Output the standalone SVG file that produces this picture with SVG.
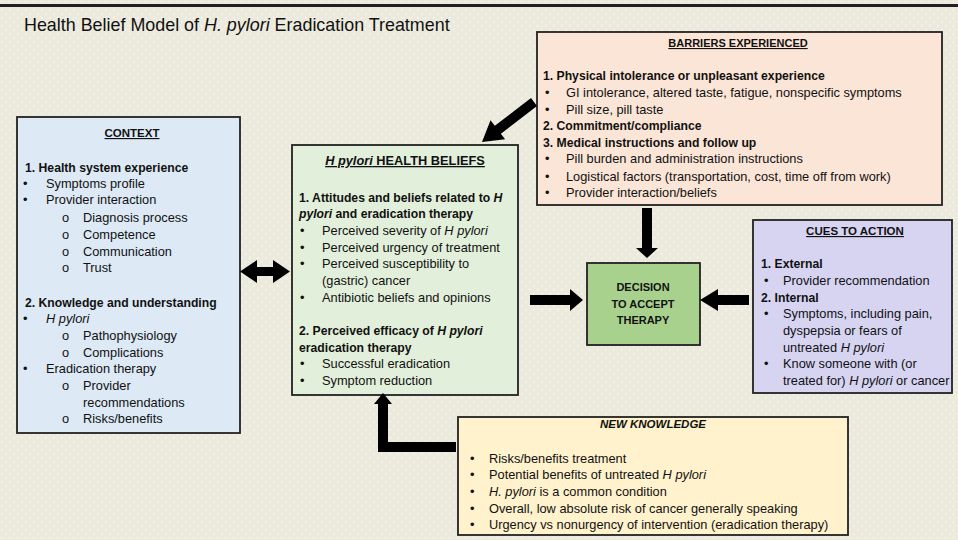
<svg xmlns="http://www.w3.org/2000/svg" width="958" height="540" viewBox="0 0 958 540">
<defs>
<pattern id="dots" width="8" height="8" patternUnits="userSpaceOnUse">
<rect width="8" height="8" fill="#EBEADD"/>
<rect x="1" y="1" width="1.5" height="1.5" fill="#F8F8F2"/>
<rect x="5" y="5" width="1.5" height="1.5" fill="#F8F8F2"/>
</pattern>
</defs>
<style>
text{font-family:"Liberation Sans",Arial,sans-serif;font-size:12.8px;fill:#111}
.b{font-weight:bold;font-size:12.2px}
.i{font-style:italic}
.h{font-weight:bold;text-decoration:underline;text-anchor:middle;font-size:11.5px}
.box{stroke:#222;stroke-width:1.8}
.arr{fill:#000}
</style>
<rect width="958" height="540" fill="url(#dots)"/>
<rect x="0" y="4" width="958" height="3" fill="#222"/>
<text x="24" y="31" style="font-size:17.9px">Health Belief Model of <tspan class="i">H. pylori</tspan> Eradication Treatment</text>

<g id="context">
<rect class="box" x="17" y="117" width="223" height="316" fill="#DDE9F5"/>
<text class="h" x="132" y="137">CONTEXT</text>
<text class="b" x="25" y="172">1. Health system experience</text>
<text x="23" y="188">•</text><text x="46" y="188">Symptoms profile</text>
<text x="23" y="204">•</text><text x="46" y="204">Provider interaction</text>
<text x="62" y="222">o</text><text x="83" y="222">Diagnosis process</text>
<text x="62" y="239">o</text><text x="83" y="239">Competence</text>
<text x="62" y="256">o</text><text x="83" y="256">Communication</text>
<text x="62" y="272">o</text><text x="83" y="272">Trust</text>
<text class="b" x="25" y="307">2. Knowledge and understanding</text>
<text x="23" y="323">•</text><text class="i" x="46" y="323">H pylori</text>
<text x="62" y="340">o</text><text x="83" y="340">Pathophysiology</text>
<text x="62" y="357">o</text><text x="83" y="357">Complications</text>
<text x="23" y="373">•</text><text x="46" y="373">Eradication therapy</text>
<text x="62" y="390">o</text><text x="83" y="390">Provider</text>
<text x="83" y="407">recommendations</text>
<text x="62" y="423">o</text><text x="83" y="423">Risks/benefits</text>
</g>

<g id="beliefs">
<rect class="box" x="292" y="145" width="226" height="250" fill="#E2EFDA"/>
<text class="h" x="405" y="165" style="font-size:12.8px"><tspan class="i">H pylori</tspan> HEALTH BELIEFS</text>
<text class="b" x="299" y="202">1. Attitudes and beliefs related to <tspan class="i">H</tspan></text>
<text class="b" x="299" y="218"><tspan class="i">pylori</tspan> and eradication therapy</text>
<text x="300" y="235">•</text><text x="322" y="235">Perceived severity of <tspan class="i">H pylori</tspan></text>
<text x="300" y="252">•</text><text x="322" y="252">Perceived urgency of treatment</text>
<text x="300" y="268">•</text><text x="322" y="268">Perceived susceptibility to</text>
<text x="322" y="285">(gastric) cancer</text>
<text x="300" y="302">•</text><text x="322" y="302">Antibiotic beliefs and opinions</text>
<text class="b" x="299" y="335">2. Perceived efficacy of <tspan class="i">H pylori</tspan></text>
<text class="b" x="299" y="352">eradication therapy</text>
<text x="300" y="368">•</text><text x="322" y="368">Successful eradication</text>
<text x="300" y="385">•</text><text x="322" y="385">Symptom reduction</text>
</g>

<g id="barriers">
<rect class="box" x="537" y="32" width="405" height="173" fill="#FBE5D6"/>
<text class="h" x="738" y="47" style="font-size:11px">BARRIERS EXPERIENCED</text>
<text class="b" x="543" y="80">1. Physical intolerance or unpleasant experience</text>
<text x="545" y="97">•</text><text x="566" y="97">GI intolerance, altered taste, fatigue, nonspecific symptoms</text>
<text x="545" y="114">•</text><text x="566" y="114">Pill size, pill taste</text>
<text class="b" x="543" y="130">2. Commitment/compliance</text>
<text class="b" x="543" y="147">3. Medical instructions and follow up</text>
<text x="545" y="163">•</text><text x="566" y="163">Pill burden and administration instructions</text>
<text x="545" y="181">•</text><text x="566" y="181">Logistical factors (transportation, cost, time off from work)</text>
<text x="545" y="197">•</text><text x="566" y="197">Provider interaction/beliefs</text>
</g>

<g id="cues">
<rect class="box" x="753" y="220" width="199" height="173" fill="#D6D4F1"/>
<text class="h" x="855" y="235">CUES TO ACTION</text>
<text class="b" x="761" y="268">1. External</text>
<text x="764" y="285">•</text><text x="783" y="285">Provider recommendation</text>
<text class="b" x="761" y="302">2. Internal</text>
<text x="764" y="318">•</text><text x="783" y="318">Symptoms, including pain,</text>
<text x="783" y="335">dyspepsia or fears of</text>
<text x="783" y="352">untreated <tspan class="i">H pylori</tspan></text>
<text x="764" y="368">•</text><text x="783" y="368">Know someone with (or</text>
<text x="783" y="385">treated for) <tspan class="i">H pylori</tspan> or cancer</text>
</g>

<g id="decision">
<rect class="box" x="587" y="263" width="113" height="82" fill="#A9D18E"/>
<text class="b" x="643" y="291" text-anchor="middle" style="font-size:11px">DECISION</text>
<text class="b" x="643" y="308" text-anchor="middle" style="font-size:11px">TO ACCEPT</text>
<text class="b" x="643" y="324" text-anchor="middle" style="font-size:11px">THERAPY</text>
</g>

<g id="newknowledge">
<rect class="box" x="458" y="417" width="390" height="118" fill="#FFF2CC"/>
<text class="b i" x="653" y="428" text-anchor="middle" style="font-size:11.5px">NEW KNOWLEDGE</text>
<text x="470" y="463">•</text><text x="489" y="463">Risks/benefits treatment</text>
<text x="470" y="479">•</text><text x="489" y="479">Potential benefits of untreated <tspan class="i">H pylori</tspan></text>
<text x="470" y="496">•</text><text x="489" y="496"><tspan class="i">H. pylori</tspan> is a common condition</text>
<text x="470" y="513">•</text><text x="489" y="513">Overall, low absolute risk of cancer generally speaking</text>
<text x="470" y="529">•</text><text x="489" y="529">Urgency vs nonurgency of intervention (eradication therapy)</text>
</g>

<g id="connectors">
<polygon class="arr" points="240,271.5 257,260 257,267 273,267 273,260 290,271.5 273,283 273,276 257,276 257,283"/>
<polygon class="arr" points="531,98 494.8,125.8 490.5,120.3 482,142 505.1,139.3 500.9,133.8 537,106"/>
<polygon class="arr" points="642,208 652,208 652,248 658,248 647,258 636,248 642,248"/>
<polygon class="arr" points="530,295 570,295 570,289 583,300 570,311 570,305 530,305"/>
<polygon class="arr" points="749,295 718,295 718,289 700,300 718,311 718,305 749,305"/>
<polygon class="arr" points="456,442 456,452 378,452 378,404 374,404 383,393 392,404 388,404 388,442"/>
</g>
</svg>
